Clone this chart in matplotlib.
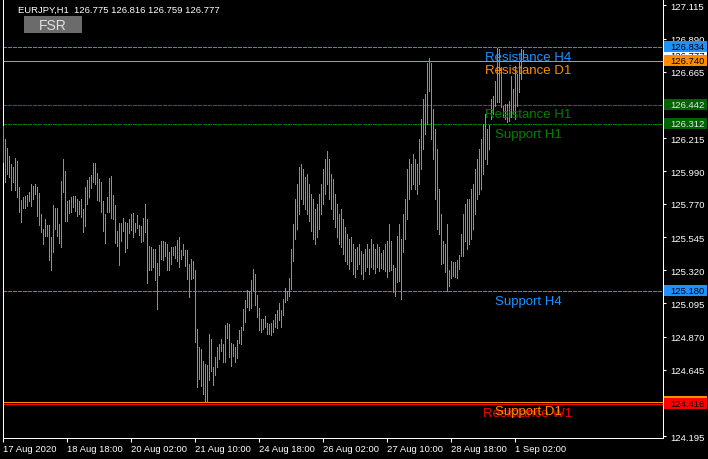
import matplotlib
matplotlib.use("Agg")
import matplotlib.pyplot as plt
import matplotlib.transforms as mtransforms
from matplotlib.patches import Rectangle
import numpy as np

# ---- data -------------------------------------------------------------
symbol = "EURJPY,H1"
last_ohlc = [126.775, 126.816, 126.759, 126.777]

bar_high = [
    126.298, 126.210, 126.149, 126.095, 126.040, 126.020, 126.081, 126.061, 125.884, 125.796,
    125.817, 125.823, 125.830, 125.850, 125.905, 125.891, 125.905, 125.884, 125.844, 125.701,
    125.600, 125.667, 125.627, 125.627, 125.545, 125.762, 125.742, 125.742, 125.633, 125.925,
    126.074, 125.993, 125.789, 125.796, 125.817, 125.823, 125.823, 125.803, 125.789, 125.803,
    125.735, 125.884, 125.932, 125.952, 125.966, 126.047, 126.047, 125.979, 125.939, 125.918,
    125.789, 125.701, 125.817, 125.945, 125.959, 125.830, 125.762, 125.586, 125.640, 125.640,
    125.674, 125.647, 125.640, 125.668, 125.701, 125.708, 125.640, 125.695, 125.627, 125.620,
    125.674, 125.769, 125.668, 125.484, 125.478, 125.464, 125.464, 125.369, 125.491, 125.518,
    125.518, 125.511, 125.498, 125.444, 125.478, 125.478, 125.484, 125.525, 125.545, 125.457,
    125.498, 125.457, 125.457, 125.362, 125.396, 125.383, 125.322, 124.922, 124.800, 124.786,
    124.705, 124.684, 124.678, 124.888, 124.854, 124.664, 124.732, 124.800, 124.820, 124.854,
    124.820, 124.949, 124.962, 124.955, 124.827, 124.820, 124.800, 124.847, 124.915, 124.935,
    125.057, 125.118, 125.186, 125.179, 125.254, 125.328, 125.294, 125.152, 125.064, 124.989,
    124.989, 125.010, 124.962, 124.955, 124.962, 124.983, 125.023, 125.050, 125.098, 125.050,
    125.125, 125.200, 125.179, 125.267, 125.464, 125.633, 125.803, 125.905, 126.020, 126.040,
    126.006, 125.952, 125.972, 125.905, 125.837, 125.803, 125.735, 125.769, 125.837, 125.905,
    126.006, 126.074, 126.128, 126.074, 125.972, 125.939, 125.837, 125.769, 125.701, 125.735,
    125.668, 125.613, 125.566, 125.532, 125.545, 125.498, 125.464, 125.478, 125.498, 125.450,
    125.430, 125.464, 125.498, 125.464, 125.532, 125.498, 125.464, 125.498, 125.478, 125.437,
    125.457, 125.498, 125.518, 125.633, 125.518, 125.356, 125.335, 125.552, 125.633, 125.532,
    125.701, 125.803, 126.006, 126.074, 126.040, 126.108, 126.074, 126.040, 126.210, 126.346,
    126.481, 126.515, 126.725, 126.759, 126.725, 126.413, 126.278, 126.142, 125.871, 125.701,
    125.518, 125.498, 125.633, 125.322, 125.383, 125.376, 125.376, 125.389, 125.423, 125.566,
    125.701, 125.769, 125.803, 125.803, 125.871, 125.905, 126.006, 126.074, 126.142, 126.210,
    126.311, 126.379, 126.278, 126.305, 126.481, 126.501, 126.603, 126.830, 126.820, 126.698,
    126.434, 126.447, 126.447, 126.467, 126.637, 126.549, 126.705, 126.650, 126.739, 126.820,
    126.816,
]

bar_low = [
    126.054, 125.918, 125.972, 125.952, 125.864, 125.918, 125.864, 125.817, 125.715, 125.647,
    125.742, 125.742, 125.756, 125.789, 125.756, 125.803, 125.837, 125.688, 125.627, 125.579,
    125.498, 125.552, 125.552, 125.389, 125.322, 125.444, 125.600, 125.552, 125.505, 125.478,
    125.850, 125.654, 125.654, 125.708, 125.715, 125.749, 125.722, 125.688, 125.701, 125.681,
    125.579, 125.620, 125.769, 125.817, 125.878, 125.918, 125.905, 125.796, 125.789, 125.715,
    125.586, 125.505, 125.715, 125.715, 125.674, 125.667, 125.505, 125.484, 125.356, 125.518,
    125.586, 125.444, 125.471, 125.572, 125.593, 125.545, 125.579, 125.606, 125.559, 125.511,
    125.518, 125.579, 125.233, 125.322, 125.322, 125.342, 125.254, 125.057, 125.288, 125.396,
    125.389, 125.417, 125.322, 125.322, 125.362, 125.423, 125.403, 125.383, 125.342, 125.396,
    125.423, 125.349, 125.261, 125.139, 125.261, 125.267, 124.833, 124.528, 124.583, 124.535,
    124.481, 124.433, 124.428, 124.576, 124.637, 124.542, 124.610, 124.664, 124.718, 124.772,
    124.698, 124.698, 124.861, 124.732, 124.671, 124.739, 124.698, 124.725, 124.827, 124.820,
    124.915, 124.969, 125.071, 125.050, 125.064, 125.179, 125.084, 125.003, 124.915, 124.901,
    124.922, 124.935, 124.888, 124.888, 124.881, 124.901, 124.935, 124.928, 124.983, 124.935,
    125.017, 125.105, 125.118, 125.145, 125.193, 125.383, 125.532, 125.600, 125.701, 125.803,
    125.769, 125.735, 125.701, 125.654, 125.586, 125.532, 125.498, 125.545, 125.600, 125.701,
    125.769, 125.837, 125.905, 125.803, 125.735, 125.668, 125.613, 125.545, 125.498, 125.478,
    125.430, 125.383, 125.362, 125.329, 125.383, 125.294, 125.274, 125.329, 125.362, 125.294,
    125.261, 125.315, 125.342, 125.294, 125.342, 125.329, 125.301, 125.342, 125.315, 125.335,
    125.329, 125.315, 125.274, 125.315, 125.322, 125.172, 125.145, 125.240, 125.247, 125.125,
    125.444, 125.532, 125.668, 125.803, 125.871, 125.905, 125.871, 125.837, 125.905, 126.006,
    126.142, 126.244, 126.311, 126.535, 126.210, 126.074, 125.803, 125.600, 125.566, 125.362,
    125.369, 125.308, 125.179, 125.213, 125.267, 125.281, 125.274, 125.267, 125.329, 125.417,
    125.417, 125.518, 125.464, 125.498, 125.532, 125.600, 125.701, 125.803, 125.837, 125.871,
    125.972, 126.074, 126.040, 126.142, 126.346, 126.379, 126.434, 126.461, 126.461, 126.427,
    126.359, 126.346, 126.325, 126.332, 126.359, 126.379, 126.346, 126.434, 126.528, 126.617,
    126.759,
]

time_label_bars = [0, 32, 64, 96, 128, 160, 192, 224, 256]
time_labels = ["17 Aug 2020", "18 Aug 18:00", "20 Aug 02:00", "21 Aug 10:00",
               "24 Aug 18:00", "26 Aug 02:00", "27 Aug 10:00", "28 Aug 18:00",
               "1 Sep 02:00"]

price_ticks = [127.115, 126.890, 126.665, 126.440, 126.215, 125.990, 125.770,
               125.545, 125.320, 125.095, 124.870, 124.645, 124.420, 124.195]

level_names = ["Resistance H4", "Resistance D1", "Resistance H1", "Support H1",
               "Support H4", "Resistance W1", "Support D1"]
level_prices = [126.834, 126.740, 126.442, 126.312, 125.180, 124.416, 124.430]
level_colors = ["#1E90FF", "#FF8C00", "#008000", "#008000",
                "#1E90FF", "#FF0000", "#FF8C00"]
level_dashed = [True, False, True, True, True, False, False]
level_text_bar = [240.9, 240.9, 240.9, 245.9, 245.9, 239.9, 245.9]
level_box_text = ["black", "black", "#e6e6e6", "#e6e6e6", "black", "black", "black"]

# ---- figure -----------------------------------------------------------
W, H = 708, 460
FONT = "Liberation Sans"
bar_color = "#32D232"
PX = 72 / 100  # one pixel in points

fig = plt.figure(figsize=(W / 100, H / 100), dpi=100, facecolor="black")
ax_left, ax_right, ax_top, ax_bottom = 2.5, 663.0, 0.0, 439.0
ax = fig.add_axes([ax_left / W, (H - ax_bottom) / H,
                   (ax_right - ax_left) / W, (ax_bottom - ax_top) / H])
ax.set_facecolor("black")

n = len(bar_high)
idx = np.arange(n)
ax.vlines(idx, bar_low, bar_high, colors=bar_color, linewidth=0.6,
          antialiased=False, zorder=3)

ax.set_xlim(-0.4, 329.85)
ax.set_ylim(124.183, 127.159)

for side in ("left", "right", "bottom"):
    ax.spines[side].set_color("white")
    ax.spines[side].set_linewidth(PX)
    ax.spines[side].set_antialiased(False)
ax.spines["top"].set_visible(False)

# time axis
ax.set_xticks(time_label_bars)
ax.set_xticklabels(time_labels, ha="left", fontsize=6.8, family=FONT, color="white")
ax.tick_params(axis="x", direction="out", length=3, width=0.8, color="white", pad=1.5)

# price axis on the right
ax.yaxis.tick_right()
ax.set_yticks(price_ticks)
ax.set_yticklabels([f"{p:.3f}" for p in price_ticks], fontsize=6.8, family=FONT, color="white")
ax.tick_params(axis="y", direction="out", length=2.5, width=0.8, color="white", pad=2.5)

# level lines and their names
px_per_price = (ax_bottom - ax_top) / (127.159 - 124.183)
for price, col, dashed in zip(level_prices, level_colors, level_dashed):
    ls = (0, (3.0, 2.0)) if dashed else "solid"
    ax.axhline(price, color=col, linewidth=PX, linestyle=ls, antialiased=False,
               zorder=2)

for k in range(len(level_names)):
    tr = mtransforms.offset_copy(ax.transData, fig=fig, x=0, y=-2.6, units="points")
    ax.text(level_text_bar[k], level_prices[k], level_names[k], color=level_colors[k],
            fontsize=9.5, family=FONT, va="top", ha="left", transform=tr, zorder=4)

# price tags on the right edge
tag_tr = mtransforms.blended_transform_factory(fig.transFigure, ax.transData)
tag_h = 11 / px_per_price


def price_tag(price, face, txtcol, z):
    ax.add_patch(Rectangle((664 / W, price - tag_h / 2), 43 / W, tag_h,
                           transform=tag_tr, facecolor=face, edgecolor="none",
                           clip_on=False, zorder=z))
    ax.text(670 / W, price, f"{price:.3f}", transform=tag_tr, color=txtcol,
            fontsize=6.8, family=FONT, va="center", ha="left", clip_on=False,
            zorder=z + 0.1)


price_tag(level_prices[2], "#006400", level_box_text[2], 6)
price_tag(level_prices[3], "#006400", level_box_text[3], 6)
price_tag(level_prices[4], level_colors[4], level_box_text[4], 6)
price_tag(level_prices[6], level_colors[6], level_box_text[6], 6)
price_tag(level_prices[5], level_colors[5], level_box_text[5], 7)
price_tag(last_ohlc[3], "white", "black", 6)
price_tag(level_prices[1], level_colors[1], level_box_text[1], 7)
price_tag(level_prices[0], level_colors[0], level_box_text[0], 8)

# header and indicator button
header = symbol + "  " + " ".join(f"{v:.3f}" for v in last_ohlc)
fig.text(18 / W, 1 - 10.5 / H, header, color="white", fontsize=6.8, family=FONT,
         va="center", ha="left")
fig.patches.append(Rectangle((24 / W, 1 - 34.3 / H), 57.7 / W, 17.6 / H,
                             transform=fig.transFigure, facecolor="#6b6b6b",
                             edgecolor="none"))
fig.text(53 / W, 1 - 25.5 / H, "FSR", color="#e0e0e0", fontsize=10, family=FONT,
         va="center", ha="center")

fig.savefig("out.png", dpi=100, facecolor="black")
